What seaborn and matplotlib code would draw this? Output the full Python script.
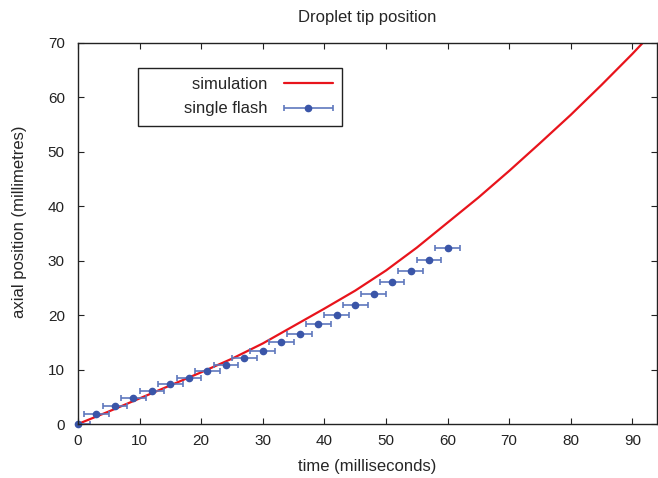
import matplotlib
matplotlib.use("Agg")
import matplotlib.pyplot as plt
import seaborn as sns
import pandas as pd
from matplotlib.container import ErrorbarContainer
from matplotlib.legend_handler import HandlerErrorbar

# Simulation curve
sim_time = [0, 5, 10, 15, 20, 25, 30, 35, 40, 45, 50, 55, 60, 65, 70, 75, 80, 85, 90, 92]
sim_pos = [0, 2.3, 4.7, 7.1, 9.5, 12.0, 14.8, 18.0, 21.2, 24.5, 28.2, 32.4, 37.0, 41.6,
           46.5, 51.6, 56.8, 62.3, 68.0, 70.4]

# Single flash measurements
flash_time = [0, 3, 6, 9, 12, 15, 18, 21, 24, 27, 30, 33, 36, 39, 42, 45, 48, 51, 54, 57, 60]
flash_pos = [0, 1.78, 3.37, 4.78, 6.07, 7.35, 8.52, 9.68, 10.9, 12.2, 13.5, 15.0, 16.6,
             18.3, 20.0, 21.9, 23.95, 26.0, 28.06, 30.2, 32.4]
flash_xerr = [2] * len(flash_time)

x_ticks = [0, 10, 20, 30, 40, 50, 60, 70, 80, 90]
y_ticks = [0, 10, 20, 30, 40, 50, 60, 70]

sns.set_style("ticks")
plt.rcParams['font.family'] = ['Liberation Sans', 'DejaVu Sans']

fig = plt.figure(figsize=(6.58, 4.78), dpi=100)
ax = fig.add_axes([78 / 658, 1 - 424 / 478, 579 / 658, 381 / 478])

sim_df = pd.DataFrame({"time": sim_time, "pos": sim_pos})
sns.lineplot(data=sim_df, x="time", y="pos", ax=ax, color="#e8141c", linewidth=1.6,
             label="simulation", sort=True)

eb = ax.errorbar(flash_time, flash_pos, xerr=flash_xerr, fmt="o", color="#3a55a8",
                 ecolor="#5f78bd", elinewidth=1.2, capsize=2.5, capthick=1.2,
                 markersize=4.5, label="single flash")
eb.lines[0].set_clip_on(False)

ax.set_xlim(0, 94)
ax.set_ylim(0, 70)
ax.set_xticks(x_ticks)
ax.set_yticks(y_ticks)
ax.tick_params(direction="in", length=4, width=0.8, top=True, right=True,
               labelsize=11, colors="#222222")
ax.tick_params(axis="y", pad=9.5)
ax.tick_params(axis="x", pad=7.5)
for s in ax.spines.values():
    s.set_visible(True)
    s.set_linewidth(1.0)
    s.set_color("#222222")

ax.set_xlabel("time (milliseconds)", fontsize=12)
ax.set_ylabel("axial position (millimetres)", fontsize=12)
ax.xaxis.set_label_coords(0.5, (424 - 459) / 381)
ax.yaxis.set_label_coords((27 - 78) / 579, (424 - 221.5) / 381)
ax.set_title("Droplet tip position", fontsize=12, pad=15)

handles, labels = ax.get_legend_handles_labels()
pad = " " * 8
leg = ax.legend(handles, [pad + "simulation", pad + "single flash"], loc="upper left",
                bbox_to_anchor=(0.1036, 0.934), markerfirst=False, fontsize=12,
                frameon=True, fancybox=False, edgecolor="#222222", framealpha=1,
                handlelength=2.9, handletextpad=1.0, labelspacing=0.55,
                borderpad=0.55, borderaxespad=0,
                handler_map={ErrorbarContainer: HandlerErrorbar(xerr_size=1.45)})
leg.get_frame().set_linewidth(1.0)

fig.savefig("out.png", dpi=100)
